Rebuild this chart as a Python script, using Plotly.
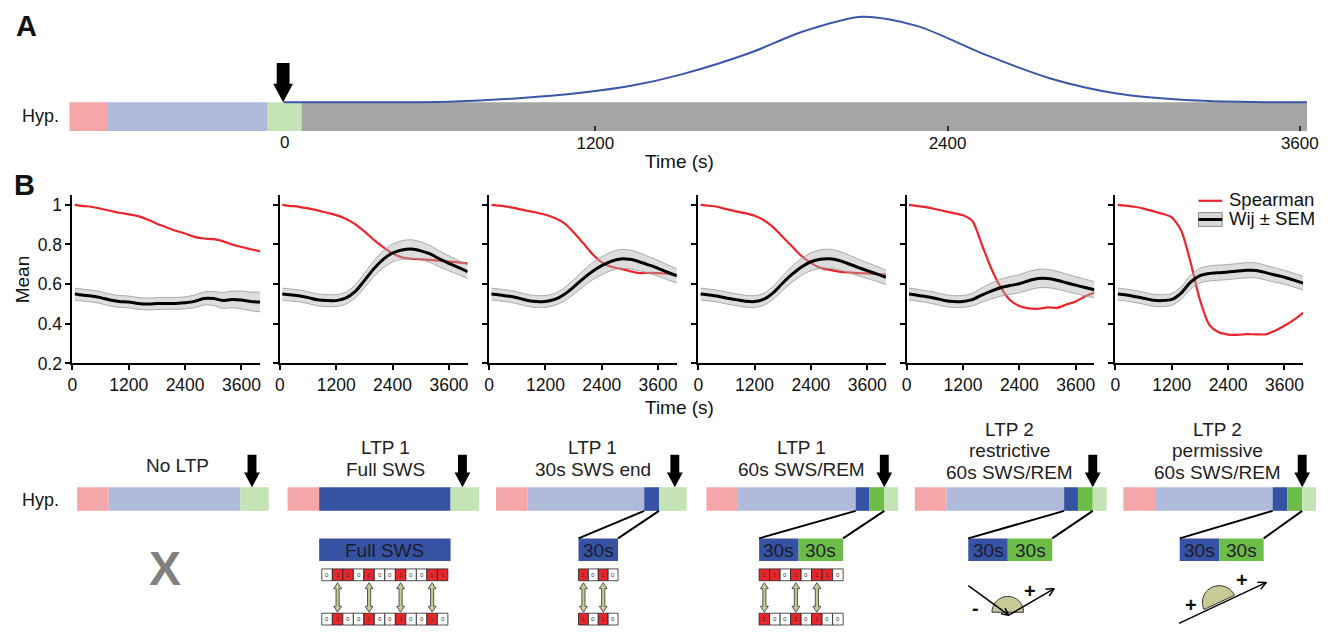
import math
import plotly.graph_objects as go

W, H = 1330, 636
FONT = "Liberation Sans, Arial, sans-serif"

# ---------------- Panel A data ----------------
A_CURVE_T = [138, 420, 701, 929, 1158, 1317, 1500, 1728, 1910, 2110, 2298, 2526, 2753, 2982, 3210, 3438, 3625]
A_CURVE_V = [0, 0.002, 0.008, 0.046, 0.115, 0.19, 0.333, 0.58, 0.83, 1.0, 0.89, 0.56, 0.276, 0.10, 0.027, 0.003, 0]
A_HYP_STAGE = ["wake", "sws", "rem", "post"]
A_HYP_START = [-592, -464, 84, 199]
A_HYP_END = [-464, 84, 199, 3625]
A_ARROW_T = 142
A_TICKS = [1200, 2400, 3600]
A_TICK_TEXT = ["1200", "2400", "3600"]

# ---------------- Panel B data ----------------
T_B = [50, 200, 400, 600, 800, 1000, 1200, 1400, 1600, 1800, 2000, 2200, 2400,
       2600, 2800, 3000, 3200, 3400, 3600, 3800, 4000]
SP1 = [1.0, 0.995, 0.99, 0.98, 0.97, 0.96, 0.952, 0.943, 0.926, 0.905, 0.887, 0.869, 0.855, 0.838, 0.83, 0.827, 0.817, 0.80, 0.787, 0.776, 0.765]
SP2 = [1.0, 0.995, 0.99, 0.982, 0.972, 0.96, 0.948, 0.93, 0.903, 0.866, 0.823, 0.787, 0.755, 0.735, 0.728, 0.725, 0.722, 0.718, 0.714, 0.71, 0.705]
SP3 = [1.0, 0.996, 0.99, 0.981, 0.97, 0.961, 0.95, 0.934, 0.908, 0.862, 0.808, 0.752, 0.71, 0.688, 0.678, 0.666, 0.656, 0.657, 0.656, 0.653, 0.648]
SP4 = [1.0, 0.996, 0.99, 0.978, 0.967, 0.958, 0.945, 0.922, 0.886, 0.838, 0.79, 0.742, 0.707, 0.682, 0.672, 0.663, 0.659, 0.656, 0.654, 0.651, 0.648]
SP5 = [1.0, 0.995, 0.988, 0.979, 0.968, 0.958, 0.947, 0.918, 0.80, 0.68, 0.585, 0.52, 0.49, 0.478, 0.476, 0.483, 0.48, 0.497, 0.513, 0.538, 0.558]
SP6 = [1.0, 0.996, 0.99, 0.981, 0.968, 0.955, 0.937, 0.87, 0.71, 0.52, 0.395, 0.357, 0.346, 0.344, 0.348, 0.347, 0.347, 0.365, 0.39, 0.42, 0.455]

W1 = [0.55, 0.545, 0.54, 0.532, 0.52, 0.513, 0.51, 0.503, 0.50, 0.502, 0.503, 0.503, 0.506, 0.513, 0.528, 0.528, 0.518, 0.523, 0.52, 0.513, 0.51]
W2 = [0.55, 0.546, 0.541, 0.532, 0.521, 0.517, 0.517, 0.529, 0.562, 0.618, 0.678, 0.725, 0.757, 0.772, 0.777, 0.768, 0.752, 0.727, 0.705, 0.684, 0.663]
W3 = [0.55, 0.546, 0.54, 0.531, 0.519, 0.512, 0.513, 0.523, 0.548, 0.585, 0.627, 0.664, 0.693, 0.715, 0.727, 0.725, 0.713, 0.697, 0.68, 0.66, 0.642]
W4 = [0.55, 0.546, 0.54, 0.53, 0.522, 0.514, 0.512, 0.524, 0.557, 0.606, 0.65, 0.687, 0.713, 0.726, 0.728, 0.719, 0.703, 0.685, 0.668, 0.652, 0.634]
W5 = [0.55, 0.545, 0.538, 0.529, 0.518, 0.512, 0.513, 0.522, 0.545, 0.565, 0.582, 0.593, 0.602, 0.617, 0.628, 0.628, 0.62, 0.607, 0.595, 0.583, 0.572]
W6 = [0.55, 0.546, 0.538, 0.529, 0.519, 0.517, 0.523, 0.555, 0.61, 0.643, 0.654, 0.658, 0.661, 0.666, 0.67, 0.669, 0.658, 0.646, 0.635, 0.62, 0.605]

S1 = [0.03, 0.03, 0.03, 0.03, 0.03, 0.03, 0.03, 0.03, 0.03, 0.03, 0.03, 0.03, 0.03, 0.032, 0.033, 0.035, 0.04, 0.042, 0.045, 0.047, 0.05]
S2 = [0.03, 0.03, 0.03, 0.03, 0.03, 0.03, 0.03, 0.03, 0.033, 0.037, 0.04, 0.043, 0.045, 0.047, 0.047, 0.045, 0.043, 0.04, 0.038, 0.036, 0.035]
S3 = [0.03, 0.03, 0.03, 0.03, 0.03, 0.03, 0.03, 0.03, 0.033, 0.037, 0.04, 0.043, 0.045, 0.047, 0.048, 0.047, 0.045, 0.042, 0.04, 0.038, 0.036]
S4 = [0.03, 0.03, 0.03, 0.03, 0.03, 0.03, 0.03, 0.03, 0.033, 0.037, 0.04, 0.043, 0.045, 0.047, 0.048, 0.047, 0.045, 0.042, 0.04, 0.038, 0.036]
S5 = [0.03, 0.03, 0.03, 0.03, 0.03, 0.03, 0.03, 0.032, 0.036, 0.04, 0.043, 0.045, 0.046, 0.047, 0.047, 0.046, 0.045, 0.044, 0.043, 0.042, 0.041]
S6 = [0.03, 0.03, 0.03, 0.03, 0.03, 0.03, 0.03, 0.032, 0.035, 0.037, 0.038, 0.038, 0.038, 0.038, 0.038, 0.038, 0.037, 0.036, 0.035, 0.035, 0.035]

SPEARMAN = [SP1, SP2, SP3, SP4, SP5, SP6]
WIJ = [W1, W2, W3, W4, W5, W6]
SEM = [S1, S2, S3, S4, S5, S6]
B_XTICKS = [0, 1200, 2400, 3600]
B_YTICKS = [0.2, 0.4, 0.6, 0.8, 1.0]
B_YTEXT = ["0.2", "0.4", "0.6", "0.8", "1"]

# ---------------- Schematic data (bottom row) ----------------
SCHEME_TITLES = [["No LTP"], ["LTP 1", "Full SWS"], ["LTP 1", "30s SWS end"], ["LTP 1", "60s SWS/REM"],
                 ["LTP 2", "restrictive", "60s SWS/REM"], ["LTP 2", "permissive", "60s SWS/REM"]]
SCHEME_HYP = [
    [("wake", 32), ("sws", 133), ("rem", 29)],
    [("wake", 32), ("sws_sel", 133), ("rem", 29)],
    [("wake", 32), ("sws", 118), ("sws_sel", 15), ("rem", 28)],
    [("wake", 32), ("sws", 119), ("sws_sel", 14), ("rem_sel", 15), ("rem", 14)],
    [("wake", 32), ("sws", 119), ("sws_sel", 14), ("rem_sel", 15), ("rem", 14)],
    [("wake", 32), ("sws", 119), ("sws_sel", 15), ("rem_sel", 15), ("rem", 14)],
]
BIN_TOP = [None, [0, 1, 1, 0, 1, 0, 0, 1, 0, 0, 1, 1], [1, 0, 1, 0], [1, 1, 0, 1, 0, 1, 1, 0], None, None]
BIN_BOT = [None, [0, 1, 0, 0, 1, 0, 0, 1, 0, 0, 1, 0], [1, 0, 1, 0], [1, 0, 0, 1, 0, 1, 0, 0], None, None]
BIN_LINKS = [None, [1, 4, 7, 10], [0, 2], [0, 3, 5], None, None]

COL = {"wake": "#f5a6a8", "sws": "#afbadb", "rem": "#c4e4b6", "post": "#a6a5a6",
       "sws_sel": "#3652a3", "rem_sel": "#6cbd47"}
RED = "#e8262b"
CURVE_BLUE = "#3a56a8"
KHAKI = "#c9c996"


def X(px):
    return px / W


def Y(py):
    return 1 - py / H


def path(points, close=True):
    s = "M " + " L ".join(f"{X(x):.5f},{Y(y):.5f}" for x, y in points)
    return s + (" Z" if close else "")


fig = go.Figure()
shapes = []
annots = []

# ---------------- Panel A ----------------
fig.add_trace(go.Scatter(x=A_CURVE_T, y=A_CURVE_V, mode="lines",
                         line=dict(color=CURVE_BLUE, width=2, shape="spline", smoothing=0.8),
                         xaxis="x", yaxis="y", hoverinfo="skip", showlegend=False))
for st, a, b in zip(A_HYP_STAGE, A_HYP_START, A_HYP_END):
    shapes.append(dict(type="rect", xref="x", yref="y", x0=a, x1=b, y0=-0.3333, y1=0,
                       fillcolor=COL[st], line=dict(width=0), layer="below"))

layout = dict(
    width=W, height=H, margin=dict(l=0, r=0, t=0, b=0),
    paper_bgcolor="white", plot_bgcolor="rgba(0,0,0,0)",
    showlegend=False, font=dict(family=FONT, color="#111"),
    xaxis=dict(domain=[X(65), X(1318)], anchor="y", range=[-592.4, 3625],
               tickvals=A_TICKS, ticktext=A_TICK_TEXT, ticks="inside", ticklen=5,
               tickwidth=1.5, tickcolor="#333", showline=False, showgrid=False, zeroline=False,
               tickfont=dict(size=17, color="#111")),
    yaxis=dict(domain=[Y(133), Y(12)], anchor="x", range=[-0.3333, 1.0575], visible=False),
)
annots.append(dict(x=A_ARROW_T, xref="x", y=Y(145), yref="paper", text="0", showarrow=False,
                   font=dict(size=17, color="#111"), xanchor="center", yanchor="middle"))

# ---------------- Panel B ----------------
LEFTS = [68.3, 278.3, 490, 701.7, 912.7, 1124]
for k in range(6):
    xa, ya = f"x{k + 2}", f"y{k + 2}"
    up = [m + s for m, s in zip(WIJ[k], SEM[k])]
    lo = [m - s for m, s in zip(WIJ[k], SEM[k])]
    fig.add_trace(go.Scatter(x=T_B, y=SPEARMAN[k], mode="lines",
                             line=dict(color=RED, width=2.2, shape="spline", smoothing=0.7),
                             xaxis=xa, yaxis=ya, hoverinfo="skip"))
    fig.add_trace(go.Scatter(x=T_B, y=up, mode="lines",
                             line=dict(color="#999999", width=0.8, shape="spline", smoothing=0.7),
                             xaxis=xa, yaxis=ya, hoverinfo="skip"))
    fig.add_trace(go.Scatter(x=T_B, y=lo, mode="lines", fill="tonexty",
                             fillcolor="rgba(175,175,175,0.42)",
                             line=dict(color="#999999", width=0.8, shape="spline", smoothing=0.7),
                             xaxis=xa, yaxis=ya, hoverinfo="skip"))
    fig.add_trace(go.Scatter(x=T_B, y=WIJ[k], mode="lines",
                             line=dict(color="black", width=3, shape="spline", smoothing=0.7),
                             xaxis=xa, yaxis=ya, hoverinfo="skip"))
    L = LEFTS[k]
    layout[f"xaxis{k + 2}"] = dict(domain=[X(L), X(L + 190)], anchor=ya, range=[0, 4000],
                                   tickvals=B_XTICKS, ticks="outside", ticklen=5, tickwidth=2,
                                   tickcolor="black", showline=True, linewidth=2, linecolor="black",
                                   showgrid=False, zeroline=False,
                                   tickfont=dict(size=17.5, color="#111"))
    layout[f"yaxis{k + 2}"] = dict(domain=[Y(369.3), Y(198)], anchor=xa, range=[0.2, 1.05],
                                   tickvals=B_YTICKS, ticktext=B_YTEXT, ticks="outside", ticklen=5,
                                   tickwidth=2, tickcolor="black", showline=True, linewidth=2,
                                   linecolor="black", showgrid=False, zeroline=False,
                                   showticklabels=(k == 0), tickfont=dict(size=17.5, color="#111"))


def txt(x, y, s, size=17, color="#111", anchor="center", bold=False, angle=0):
    annots.append(dict(x=X(x), y=Y(y), xref="paper", yref="paper", text=(f"<b>{s}</b>" if bold else s),
                       showarrow=False, xanchor=anchor, yanchor="middle", textangle=angle,
                       font=dict(size=size, color=color, family=FONT)))


def arrow(cx, top, head, tip, sw, hw):
    pts = [(cx - sw / 2, top), (cx + sw / 2, top), (cx + sw / 2, head), (cx + hw / 2, head),
           (cx, tip), (cx - hw / 2, head), (cx - sw / 2, head)]
    shapes.append(dict(type="path", xref="paper", yref="paper", path=path(pts),
                       fillcolor="black", line=dict(width=0)))


def line(x0, y0, x1, y1, w=2, color="black"):
    shapes.append(dict(type="line", xref="paper", yref="paper", x0=X(x0), y0=Y(y0), x1=X(x1), y1=Y(y1),
                       line=dict(color=color, width=w)))


def rect(x0, y0, x1, y1, fill, lw=0, lc="black"):
    shapes.append(dict(type="rect", xref="paper", yref="paper", x0=X(x0), y0=Y(y0), x1=X(x1), y1=Y(y1),
                       fillcolor=fill, line=dict(width=lw, color=lc)))


def open_head(tx, ty, fx, fy, size=9):
    dx, dy = tx - fx, ty - fy
    n = math.hypot(dx, dy)
    ux, uy = dx / n, dy / n
    for ang in (0.45, -0.45):
        c, s = math.cos(ang), math.sin(ang)
        bx = -(ux * c - uy * s) * size
        by = -(ux * s + uy * c) * size
        line(tx, ty, tx + bx, ty + by, w=1.5)


def half_disc(cx, cy, r, theta):
    d = (math.cos(theta), math.sin(theta))
    nrm = (d[1], -d[0])
    pts = []
    for i in range(0, 31):
        a = math.pi * i / 30
        pts.append((cx + r * (math.cos(a) * d[0] + math.sin(a) * nrm[0]),
                    cy + r * (math.cos(a) * d[1] + math.sin(a) * nrm[1])))
    shapes.append(dict(type="path", xref="paper", yref="paper", path=path(pts),
                       fillcolor=KHAKI, line=dict(width=1, color="#333")))


# Panel labels and axis titles
txt(22, 26, "A", size=29, bold=True)
txt(20, 188, "B", size=29, bold=True)
txt(57, 118, "Hyp.", size=18, anchor="right")
txt(683, 164, "Time (s)", size=19)
txt(683, 414, "Time (s)", size=19)
txt(18, 284, "Mean", size=19, angle=-90)
arrow(281.5, 64, 85, 104, 13, 20)

# Legend
line(1208, 204, 1232, 204, w=2.2, color=RED)
rect(1208, 216, 1232, 230, "#d9d9d9", lw=1, lc="#8a8a8a")
line(1208, 223, 1232, 223, w=3)
txt(1237, 203, "Spearman", size=18.5, anchor="left")
txt(1237, 222, "Wij ± SEM", size=18.5, anchor="left")

# ---------------- Bottom schematics ----------------
HYP_X0 = [73, 286, 497, 710, 921, 1132]
ARROW_X = [250, 463, 678, 890, 1101, 1313]
TITLE_X = [175, 385, 595, 806, 1017, 1227]
txt(57, 508, "Hyp.", size=18, anchor="right")
BY0, BY1 = 495, 519
seg_edges = []
for k in range(6):
    x = HYP_X0[k]
    edges = {}
    for st, ln in SCHEME_HYP[k]:
        rect(x, BY0, x + ln, BY1, COL[st])
        edges.setdefault(st, [x, x + ln])
        edges[st][1] = x + ln
        x += ln
    seg_edges.append(edges)
    arrow(ARROW_X[k], 462, 480, 495, 9, 16)
    lines = SCHEME_TITLES[k]
    if len(lines) == 1:
        ys = [473]
    elif len(lines) == 2:
        ys = [455, 477]
    else:
        ys = [436, 458, 480]
    for s, yy in zip(lines, ys):
        txt(TITLE_X[k], yy, s, size=19, color="#222")

txt(162, 578, "X", size=48, color="#808080", bold=True)

BOX_Y0, BOX_Y1 = 547, 570
rect(318, BOX_Y0, 451, BOX_Y1, COL["sws_sel"])
txt(384.5, 559, "Full SWS", size=19, color="#1d1d2b")
e = seg_edges[2]["sws_sel"]
rect(580.5, BOX_Y0, 620.5, BOX_Y1, COL["sws_sel"])
line(e[0], BY1, 580.5, BOX_Y0)
line(e[1], BY1, 620.5, BOX_Y0)
txt(600.5, 559, "30s", size=19, color="#1d1d2b")
for k, bx in ((3, 763.3), (4, 975), (5, 1189)):
    es = seg_edges[k]["sws_sel"]
    er = seg_edges[k]["rem_sel"]
    rect(bx, BOX_Y0, bx + 40, BOX_Y1, COL["sws_sel"])
    rect(bx + 40, BOX_Y0, bx + 85, BOX_Y1, COL["rem_sel"])
    line(es[0], BY1, bx, BOX_Y0)
    line(er[1], BY1, bx + 85, BOX_Y0)
    txt(bx + 20, 559, "30s", size=19, color="#1d1d2b")
    txt(bx + 62.5, 559, "30s", size=19, color="#1d1d2b")

BIN_X0 = [None, 320.7, 580.5, 763.3, None, None]
BIN_W = [None, 10.63, 10.0, 10.63, None, None]
TOP_Y0, TOP_Y1 = 578, 590
BOT_Y0, BOT_Y1 = 623, 635
for k in range(6):
    if BIN_TOP[k] is None:
        continue
    x0, cw = BIN_X0[k], BIN_W[k]
    for row, (y0, y1) in ((BIN_TOP[k], (TOP_Y0, TOP_Y1)), (BIN_BOT[k], (BOT_Y0, BOT_Y1))):
        for i, b in enumerate(row):
            rect(x0 + i * cw, y0, x0 + (i + 1) * cw, y1, RED if b else "white", lw=0.8, lc="#222")
            txt(x0 + (i + 0.5) * cw, (y0 + y1) / 2, str(b), size=6, color="#333")
    for i in BIN_LINKS[k]:
        cx = x0 + (i + 0.5) * cw
        pts = [(cx, 592), (cx + 4, 598), (cx + 1.6, 598), (cx + 1.6, 616), (cx + 4, 616), (cx, 622),
               (cx - 4, 616), (cx - 1.6, 616), (cx - 1.6, 598), (cx - 4, 598)]
        shapes.append(dict(type="path", xref="paper", yref="paper", path=path(pts),
                           fillcolor=KHAKI, line=dict(width=0.8, color="#333")))

# restrictive angle
half_disc(1015, 622, 16, 0.0)
line(975, 595, 1016, 625, w=1.5)
open_head(1016, 625, 975, 595, size=8)
line(1016, 625, 1062, 598, w=1.5)
open_head(1062, 598, 1016, 625, size=9)
txt(1037, 600, "+", size=20, color="#111", bold=True)
txt(982, 618, "-", size=20, color="#111", bold=True)

# permissive angle
th = math.atan2(591.7 - 633.3, 1276.7 - 1188.3)
half_disc(1229, 612, 17, th)
line(1188.3, 633.3, 1276.7, 591.7, w=1.5)
open_head(1276.7, 591.7, 1188.3, 633.3, size=9)
txt(1200, 615, "+", size=20, color="#111", bold=True)
txt(1252, 589, "+", size=20, color="#111", bold=True)

layout["shapes"] = shapes
layout["annotations"] = annots
fig.update_layout(**layout)
fig.write_html("out.html", config={"displayModeBar": False})
